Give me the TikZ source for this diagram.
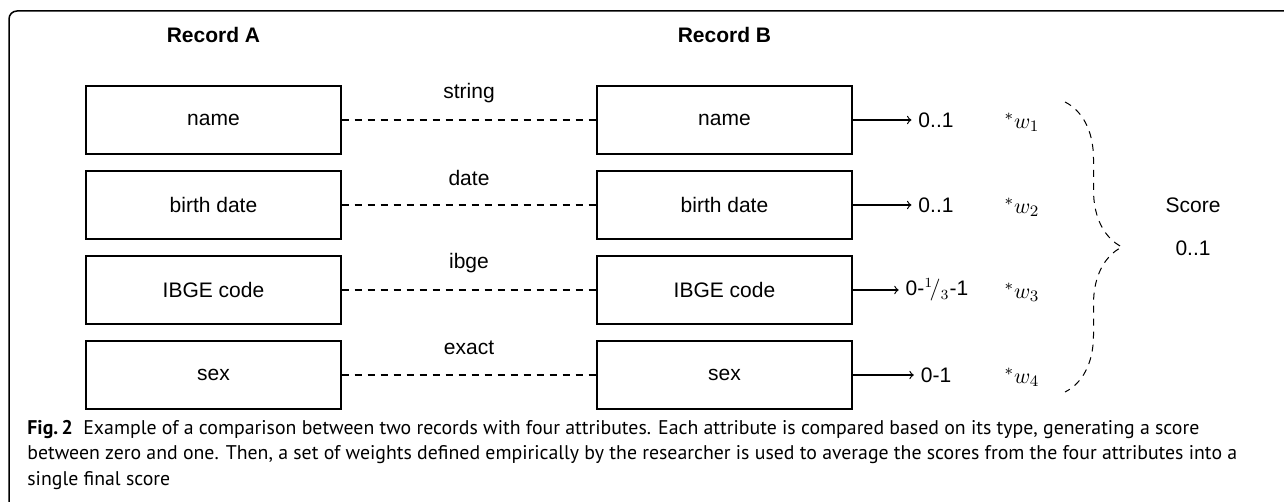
\documentclass[tikz,border=0pt]{standalone}
\usepackage[no-math]{fontspec}
\usepackage{amsmath}
\setmainfont{Liberation Sans}
\newfontfamily\capfont{PT Sans}
\usetikzlibrary{decorations.pathreplacing}

\begin{document}
\begin{tikzpicture}[x=0.5pt, y=-0.5pt, every node/.style={font=\fontsize{10.5}{12.6}\selectfont},%
        field/.style={draw, line width=0.65pt, minimum width=127.5pt, minimum height=34pt, inner sep=0pt},
        match/.style={dashed, line width=0.6pt, dash pattern=on 3.5pt off 3pt},
        kind/.style={midway, yshift=13.5pt},
        toscore/.style={->, line width=0.6pt},
        weight/.style={font=\fontsize{11}{13}\selectfont}]
    \useasboundingbox (0,0) rectangle (1284,502);
    % frame
    \draw[line width=0.75pt, rounded corners=4pt] (9,502) -- (9,11) -- (1284,11);
    % headings
    \node[font=\fontsize{10.5}{12.6}\selectfont\bfseries] (recA) at (213.5,35) {Record A};
    \node[font=\fontsize{10.5}{12.6}\selectfont\bfseries] (recB) at (724.5,35) {Record B};
    % record A
    \node[field] (a1) at (213.5,120) {name};
    \node[field] (a2) at (213.5,205) {birth date};
    \node[field] (a3) at (213.5,290) {IBGE code};
    \node[field] (a4) at (213.5,375) {sex};
    % record B
    \node[field] (b1) at (724.5,120) {name};
    \node[field] (b2) at (724.5,205) {birth date};
    \node[field] (b3) at (724.5,290) {IBGE code};
    \node[field] (b4) at (724.5,375) {sex};
    % comparisons
    \draw[match] (a1) -- node[kind] {string} (b1);
    \draw[match] (a2) -- node[kind] {date} (b2);
    \draw[match] (a3) -- node[kind] {ibge} (b3);
    \draw[match] (a4) -- node[kind] {exact} (b4);
    % partial scores
    \node (s1) at (936,120) {0..1};
    \node (s2) at (936,205) {0..1};
    \node (s3) at (937,290) {0-$^1\!/_3$-1};
    \node (s4) at (936,375) {0-1};
    \draw[toscore] (b1) -- (s1);
    \draw[toscore] (b2) -- (s2);
    \draw[toscore] (b3) -- (s3);
    \draw[toscore] (b4) -- (s4);
    % weights
    \node[weight] (w1) at (1022,122) {${}^*w_1$};
    \node[weight] (w2) at (1022,207) {${}^*w_2$};
    \node[weight] (w3) at (1022,292) {${}^*w_3$};
    \node[weight] (w4) at (1022,377) {${}^*w_4$};
    % final score
    \coordinate (top) at (1065,102);
    \coordinate (bot) at (1065,392);
    \draw[dashed, line width=0.5pt, dash pattern=on 3.5pt off 3pt, decorate, decoration={brace, amplitude=28.5pt}] (top) -- (bot);
    \node (score) at (1193,205) {Score};
    \node (total) at (1193,248) {0..1};
    % caption
    \node[anchor=base west, align=left, inner sep=0pt, font=\capfont\fontsize{9.9}{12.6}\selectfont] (cap) at (27,485)
        {\textbf{Fig.\,2}\ \ Example of a comparison between two records with four attributes. Each attribute is compared based on its type, generating a score\\
        between zero and one. Then, a set of weights defined empirically by the researcher is used to average the scores from the four attributes into a\\
        single final score};
\end{tikzpicture}
\end{document}
